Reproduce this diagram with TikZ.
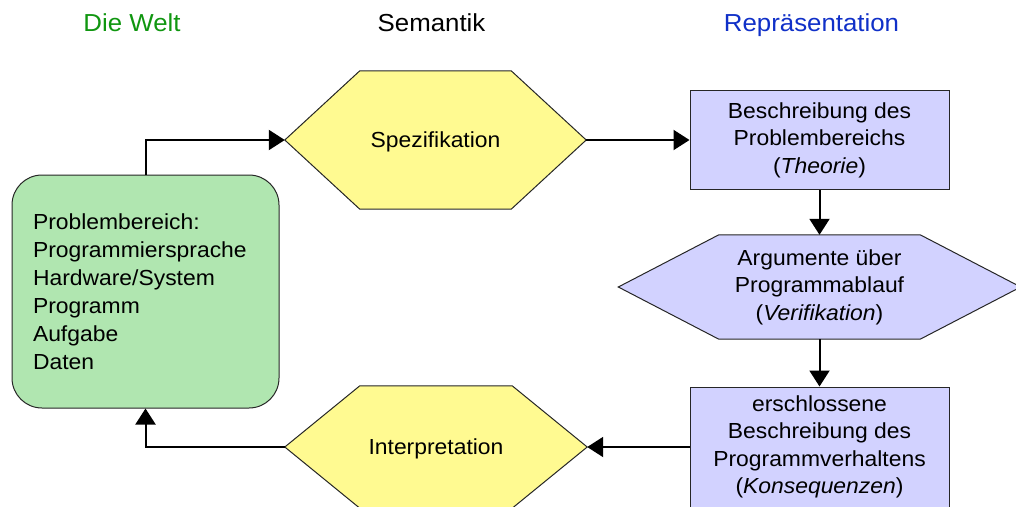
\documentclass[tikz,border=0pt]{standalone}
\usepackage{fontspec}
\setmainfont{Liberation Sans}[FakeStretch=1.05]
\usetikzlibrary{arrows.meta,backgrounds}
\definecolor{gfill}{RGB}{176,230,176}
\definecolor{yfill}{RGB}{255,250,145}
\definecolor{bfill}{RGB}{210,210,255}
\definecolor{tgreen}{RGB}{16,150,16}
\definecolor{tblue}{RGB}{16,48,200}
\begin{document}
\begin{tikzpicture}[x=1pt,y=-1pt,
  body/.style={font=\fontsize{21.8}{27.5}\selectfont, align=center, inner sep=0pt},
  titletext/.style={font=\fontsize{24.6}{30}\selectfont, anchor=base, inner sep=0pt},
  box/.style={body, draw=black!85, line width=1pt, fill=bfill, minimum width=259pt, rectangle},
  hexline/.style={draw=black!85, line width=1pt},
  conn/.style={line width=2pt, -{Triangle[length=16pt,width=20pt]}},
]
\useasboundingbox (0,0) rectangle (1016,506);
\clip (0,0) rectangle (1016,506);

% titles
\node[titletext, text=tgreen] (t1) at (132,31) {Die Welt};
\node[titletext, text=black] (t2) at (431.5,31) {Semantik};
\node[titletext, text=tblue] (t3) at (811.5,31) {Repräsentation};

% world box
\node[draw=black!85, line width=1pt, fill=gfill, rounded corners=30pt,
      minimum height=233pt, text width=225pt, inner xsep=21pt, inner ysep=0pt,
      align=left, font=\fontsize{21.8}{28}\selectfont] (welt) at (145.5,291.5)
  {Problembereich:\\Programmiersprache\\Hardware/System\\Programm\\Aufgabe\\Daten};

% hexagon text nodes
\node[body, text depth=0pt, minimum width=301pt, minimum height=138pt] (spec) at (435.5,140) {Spezifikation};
\node[body, minimum width=402pt, minimum height=104pt] (verif) at (819.5,287)
  {Argumente über\\Programmablauf\\(\textit{Verifikation})};
\node[body, text depth=0pt, minimum width=302pt, minimum height=122pt] (interp) at (436,447) {Interpretation};

% rectangles
\node[box, minimum height=99pt] (theorie) at (819.5,140)
  {Beschreibung des\\Problembereichs\\(\textit{Theorie})};
\node[box, minimum height=120pt] (konseq) at (819.5,447)
  {erschlossene\\Beschreibung des\\Programmverhaltens\\(\textit{Konsequenzen})};

% hexagon outlines
\begin{scope}[on background layer]
  \clip (0,0) rectangle (1016,506);
  \filldraw[hexline, fill=yfill] (spec.west) -- ([xshift=75pt]spec.north west) -- ([xshift=-75pt]spec.north east)
    -- (spec.east) -- ([xshift=-75pt]spec.south east) -- ([xshift=75pt]spec.south west) -- cycle;
  \filldraw[hexline, fill=bfill] (verif.west) -- ([xshift=100.5pt]verif.north west) -- ([xshift=-100.5pt]verif.north east)
    -- (verif.east) -- ([xshift=-100.5pt]verif.south east) -- ([xshift=100.5pt]verif.south west) -- cycle;
  \filldraw[hexline, fill=yfill] (interp.west) -- ([xshift=75pt]interp.north west) -- ([xshift=-75pt]interp.north east)
    -- (interp.east) -- ([xshift=-75pt]interp.south east) -- ([xshift=75pt]interp.south west) -- cycle;
\end{scope}

% connectors
\draw[conn] (welt.north) |- (spec.west);
\draw[conn] (spec.east) -- (theorie.west);
\draw[conn] (theorie.south) -- (verif.north);
\draw[conn] (verif.south) -- (konseq.north);
\draw[conn] (konseq.west) -- (interp.east);
\draw[conn] (interp.west) -| (welt.south);
\end{tikzpicture}
\end{document}
